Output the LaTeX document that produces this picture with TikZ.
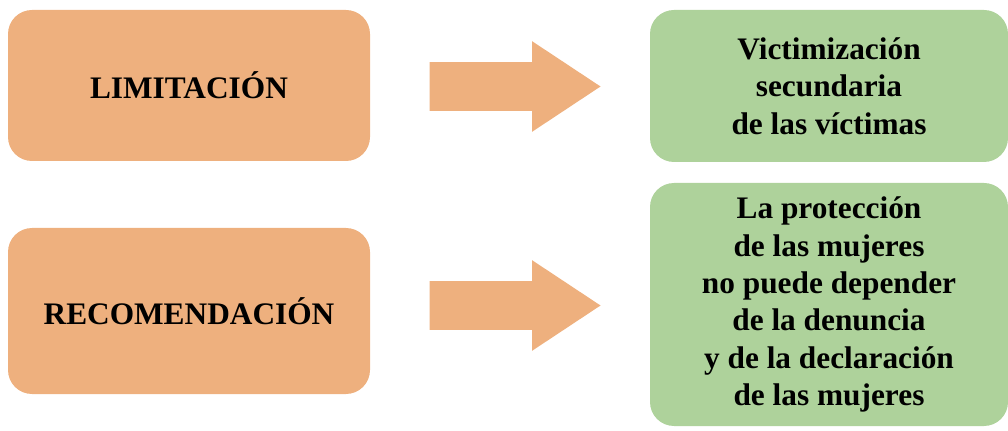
\documentclass[tikz,border=0pt]{standalone}
\usepackage{fontspec}
\setmainfont{Liberation Serif}
\usetikzlibrary{shapes.arrows}
\definecolor{boxorange}{HTML}{EEB07E}
\definecolor{boxgreen}{HTML}{AED29B}
\tikzset{
  leftbox/.style={rounded corners=18pt, fill=boxorange, inner sep=0pt,
    minimum width=271.5pt, font=\fontsize{23.5}{28}\selectfont\bfseries},
  rightbox/.style={rounded corners=18pt, fill=boxgreen, inner sep=0pt, align=center,
    minimum width=268.5pt, font=\fontsize{23.5}{28}\selectfont\bfseries},
  blockarrow/.style={single arrow, fill=boxorange, inner sep=0pt, anchor=tip,
    minimum height=128.25pt, single arrow head extend=15.75pt,
    single arrow tip angle=67}
}
\begin{document}
\begin{tikzpicture}[x=0.75pt, y=-0.75pt]
\useasboundingbox (0,0) rectangle (1008,431);
\node[leftbox, minimum height=113.25pt] (lim) at (189,85.5){LIMITACIÓN};
\node[leftbox, minimum height=124.5pt] (rec) at (189,311){RECOMENDACIÓN};
\node[rightbox, minimum height=114pt] (vic) at (829,86){Victimización\\secundaria\\de las víctimas};
\node[rightbox, minimum height=182.25pt] (pro) at (829,304.5){La protección\\de las mujeres\\no puede depender\\de la denuncia\\y de la declaración\\de las mujeres};
\node[blockarrow] (arr1) at (601,86.5){\rule{0pt}{36pt}};
\node[blockarrow] (arr2) at (601,305.5){\rule{0pt}{36pt}};
\end{tikzpicture}
\end{document}
